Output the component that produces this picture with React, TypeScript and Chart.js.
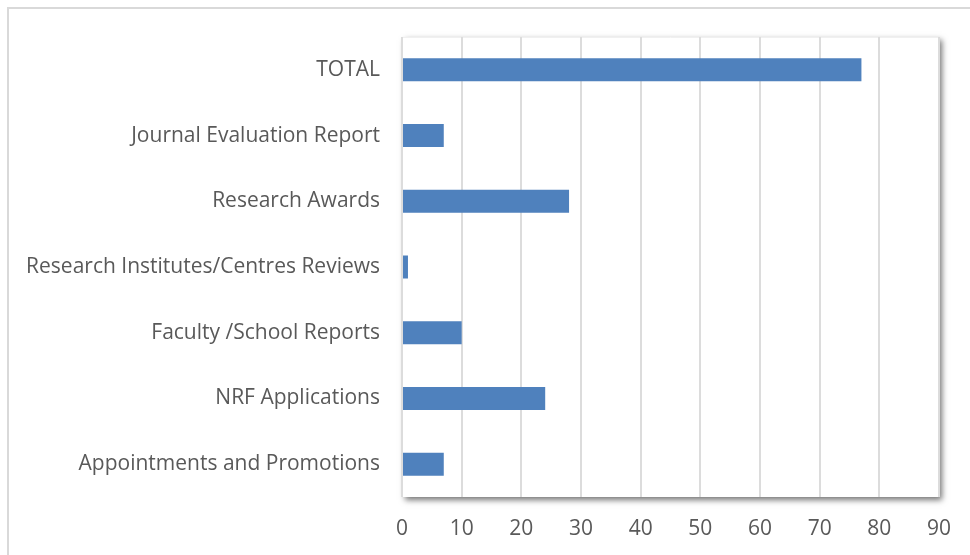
import React, { useEffect, useRef } from "react";
import { Chart, registerables } from "chart.js";

Chart.register(...registerables);

const categories = [
  "TOTAL",
  "Journal Evaluation Report",
  "Research Awards",
  "Research Institutes/Centres Reviews",
  "Faculty /School Reports",
  "NRF Applications",
  "Appointments and Promotions",
];
const values = [77, 7, 28, 1, 10, 24, 7];
const xTicksMax = 90;

const framePlugin = {
  id: "frame",
  beforeDraw(chart: any) {
    const { ctx, chartArea } = chart;
    ctx.save();
    ctx.fillStyle = "#ffffff";
    ctx.fillRect(0, 0, chart.width, chart.height);
    ctx.strokeStyle = "#d9d9d9";
    ctx.lineWidth = 2;
    ctx.strokeRect(8, 8, chart.width + 20, chart.height + 20);
    ctx.shadowColor = "rgba(0,0,0,0.55)";
    ctx.shadowBlur = 6;
    ctx.shadowOffsetX = 3;
    ctx.shadowOffsetY = 3;
    ctx.fillStyle = "#ffffff";
    ctx.fillRect(chartArea.left, chartArea.top, chartArea.right - chartArea.left, chartArea.bottom - chartArea.top);
    ctx.restore();
    ctx.save();
    ctx.strokeStyle = "#f0f0f0";
    ctx.lineWidth = 1;
    ctx.beginPath();
    ctx.moveTo(chartArea.left, chartArea.top + 0.5);
    ctx.lineTo(chartArea.right, chartArea.top + 0.5);
    ctx.stroke();
    ctx.restore();
  },
};

export default function App() {
  const ref = useRef<HTMLCanvasElement>(null);
  useEffect(() => {
    document.body.style.margin = "0";
    const chart = new Chart(ref.current!, {
      type: "bar",
      data: {
        labels: categories,
        datasets: [
          {
            data: values,
            backgroundColor: "#4f81bd",
            borderWidth: 0,
            barPercentage: 0.35,
            categoryPercentage: 1,
          },
        ],
      },
      options: {
        indexAxis: "y",
        animation: false,
        responsive: false,
        layout: { padding: { left: 0, right: 30, top: 37, bottom: 0 } },
        plugins: { legend: { display: false }, tooltip: { enabled: false } },
        scales: {
          x: {
            min: 0,
            max: xTicksMax,
            ticks: {
              stepSize: 10,
              color: "#595959",
              font: { family: "Open Sans", size: 21 },
              padding: 19,
            },
            grid: { color: "#dcdcdc", lineWidth: 2, drawTicks: false },
            border: { display: false },
            afterFit(scale: any) {
              scale.height = 58;
            },
          },
          y: {
            ticks: {
              color: "#595959",
              font: { family: "Open Sans", size: 21 },
              padding: 22,
            },
            grid: { display: false, drawTicks: false },
            border: { display: false },
            afterFit(scale: any) {
              scale.width = 402;
            },
          },
        },
      },
      plugins: [framePlugin],
    });
    return () => chart.destroy();
  }, []);
  return <canvas ref={ref} width={970} height={555} style={{ display: "block" }} />;
}
